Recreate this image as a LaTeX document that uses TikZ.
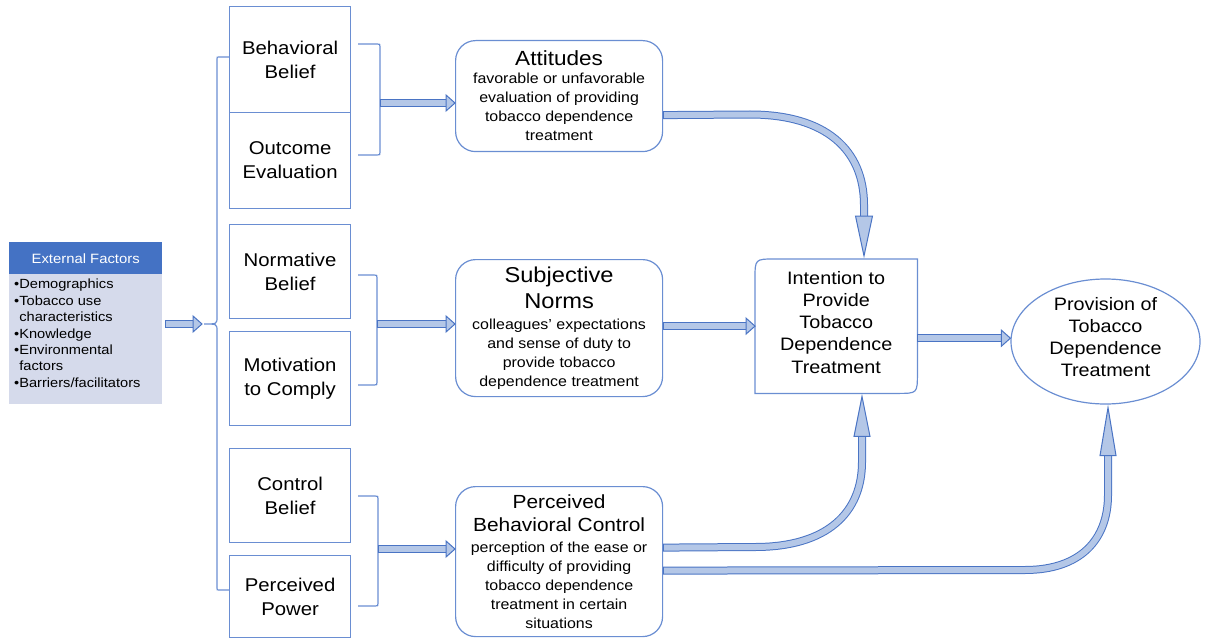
\documentclass[tikz,border=0pt]{standalone}
\usepackage{fontspec}
\setmainfont{Liberation Sans}[FakeStretch=1.1]
\usetikzlibrary{shapes.geometric,calc}
\definecolor{bordc}{HTML}{6A8ED2}
\definecolor{arrc}{HTML}{4A74C4}
\definecolor{fillc}{HTML}{B4C7E7}
\definecolor{headc}{HTML}{4472C4}
\definecolor{bodyc}{HTML}{D5DAEB}
\newcommand\shaft[1]{\draw[line width=8pt,arrc]#1;\draw[line width=6pt,fillc,shorten <=1pt]#1;}
\newcommand\headR[1]{\filldraw[fill=fillc,draw=arrc,line width=1pt,line join=miter] (#1) -- ++(-9,-8) -- ++(0,16) -- cycle;}
\newcommand\headD[1]{\filldraw[fill=fillc,draw=arrc,line width=1pt,line join=miter] (#1) -- ++(-8.5,-40) -- ++(17,0) -- cycle;}
\newcommand\headU[2]{\filldraw[fill=fillc,draw=arrc,line width=1pt,line join=miter] (#1) -- ++(-8,#2) -- ++(16,0) -- cycle;}
\begin{document}
\begin{tikzpicture}[x=1pt,y=-1pt,
  bx/.style={draw=bordc,line width=1.2pt,inner sep=0pt,align=center,anchor=north west,minimum width=121,font=\fontsize{18.5}{24}\selectfont},
  rbox/.style={draw=bordc,line width=1.2pt,rounded corners=20pt,inner sep=0pt,align=center,anchor=north west,minimum width=207,font=\fontsize{14.5}{19}\selectfont},
  brk/.style={draw=bordc,line width=1.2pt}]
\useasboundingbox (0,0) rectangle (1206,639);

% External factors
\node[fill=headc,text=white,minimum width=153,minimum height=32,anchor=north west,inner sep=0pt,font=\fontsize{13.5}{16}\selectfont] (eh) at (9,242) {External Factors};
\node[fill=bodyc,minimum width=153,minimum height=130,anchor=north west,inner sep=0pt] (eb) at (9,274) {};
\node[anchor=north west,align=left,inner sep=0pt,font=\fontsize{13.3}{16.4}\selectfont] (et) at (14,279) {•Demographics\\•Tobacco use\\\phantom{•}characteristics\\•Knowledge\\•Environmental\\\phantom{•}factors\\•Barriers/facilitators};

% left column boxes
\node[bx,minimum height=106] (bb) at (229,6) {Behavioral\\Belief};
\node[bx,minimum height=96] (oe) at (229,112) {Outcome\\Evaluation};
\node[bx,minimum height=94] (nb) at (229,224) {Normative\\Belief};
\node[bx,minimum height=94] (mc) at (229,331) {Motivation\\to Comply};
\node[bx,minimum height=94] (cb) at (229,448) {Control\\Belief};
\node[bx,minimum height=82] (pp) at (229,555) {Perceived\\Power};

% middle boxes
\node[rbox,minimum height=111] (att) at (455,40) {{\fontsize{20.5}{24}\selectfont Attitudes}\\[-1pt]favorable or unfavorable\\evaluation of providing\\tobacco dependence\\treatment};
\node[rbox,minimum height=137] (sn) at (455,259) {{\fontsize{21.5}{27}\selectfont Subjective}\\[6pt]{\fontsize{21.5}{27}\selectfont Norms}\\[2pt]colleagues’ expectations\\and sense of duty to\\provide tobacco\\dependence treatment};
\node[rbox,minimum height=150] (pbc) at (455,486) {{\fontsize{19}{24}\selectfont Perceived}\\[4pt]{\fontsize{19}{24}\selectfont Behavioral Control}\\[2pt]perception of the ease or\\difficulty of providing\\tobacco dependence\\treatment in certain\\situations};

% intention
\node[inner sep=0pt,minimum width=162,minimum height=134,anchor=north west] (int) at (755,259) {};
\node[inner sep=0pt,align=center,font=\fontsize{18}{22.3}\selectfont] (intt) at ($(int.center)+(0,-4)$) {Intention to\\Provide\\Tobacco\\Dependence\\Treatment};
\draw[bordc,line width=1.2pt] (int.south west) -- ($(int.north west)+(0,20)$) .. controls (int.north west) .. ($(int.north west)+(20,0)$) -- (int.north east) -- ($(int.south east)+(0,-20)$) .. controls (int.south east) .. ($(int.south east)+(-20,0)$) -- cycle;

% provision
\node[ellipse,draw=bordc,line width=1.2pt,inner sep=0pt,minimum width=189,minimum height=125] (prov) at (1105.5,341.5) {};
\node[inner sep=0pt,align=center,font=\fontsize{18}{22}\selectfont] (provt) at ($(prov.center)+(0,-4)$) {Provision of\\Tobacco\\Dependence\\Treatment};

% left brace
\draw[brk] (bb.west |- 0,57) -- (219,57) .. controls (217,57) .. (217,59) -- (217,317) .. controls (217,324) .. (204,324) coordinate (bt) .. controls (217,324) .. (217,331) -- (217,588) .. controls (217,590) .. (219,590) -- (pp.west |- 0,590);

% external -> brace
\coordinate (ea) at (eb.east |- bt);
\shaft{($(ea)+(3,0)$) -- ($(bt)+(-10,0)$)}
\headR{$(bt)+(-2,0)$}

% right brackets
\draw[brk] (358,44) -- (377,44) .. controls (380,44) .. (380,47) -- (380,152) .. controls (380,155) .. (377,155) -- (358,155);
\coordinate (b1) at (380,103);
\draw[brk] (358,275) -- (374,275) .. controls (377,275) .. (377,278) -- (377,382) .. controls (377,385) .. (374,385) -- (358,385);
\coordinate (b2) at (377,324);
\draw[brk] (358,496) -- (375,496) .. controls (378,496) .. (378,499) -- (378,603) .. controls (378,606) .. (375,606) -- (358,606);
\coordinate (b3) at (378,549);

\shaft{(b1) -- ($(b1 -| att.west)+(-8,0)$)}
\headR{b1 -| att.west}
\shaft{(b2) -- ($(b2 -| sn.west)+(-8,0)$)}
\headR{b2 -| sn.west}
\shaft{(b3) -- ($(b3 -| pbc.west)+(-8,0)$)}
\headR{b3 -| pbc.west}

% SN -> intention
\coordinate (s1) at ($(sn.east)+(0,-2)$);
\shaft{(s1) -- ($(s1 -| int.west)+(-8,0)$)}
\headR{s1 -| int.west}

% intention -> provision
\coordinate (i1) at ($(int.east)+(0,12)$);
\shaft{(i1) -- ($(i1 -| prov.west)+(-8,0)$)}
\headR{i1 -| prov.west}

% attitudes -> intention
\shaft{($(att.east)+(0,19)$) -- (750,114.5) .. controls (826,114.5) and (864,150) .. (864,205) -- ($(864,0 |- int.north)+(0,-42)$)}
\headD{$(864,0 |- int.north)+(0,-3)$}

% PBC -> intention
\shaft{($(pbc.east)+(0,-14)$) -- (755,547) .. controls (828,547) and (862,512) .. (862,462) -- ($(862,0 |- int.south)+(0,38)$)}
\headU{$(862,0 |- int.south)+(0,3)$}{40}

% PBC -> provision
\shaft{($(pbc.east)+(0,9)$) -- (1025,570) .. controls (1080,570) and (1108,540) .. (1108,495) -- ($(1108,0 |- prov.south)+(0,46)$)}
\headU{$(1108,0 |- prov.south)+(0,3)$}{48}
\end{tikzpicture}
\end{document}
